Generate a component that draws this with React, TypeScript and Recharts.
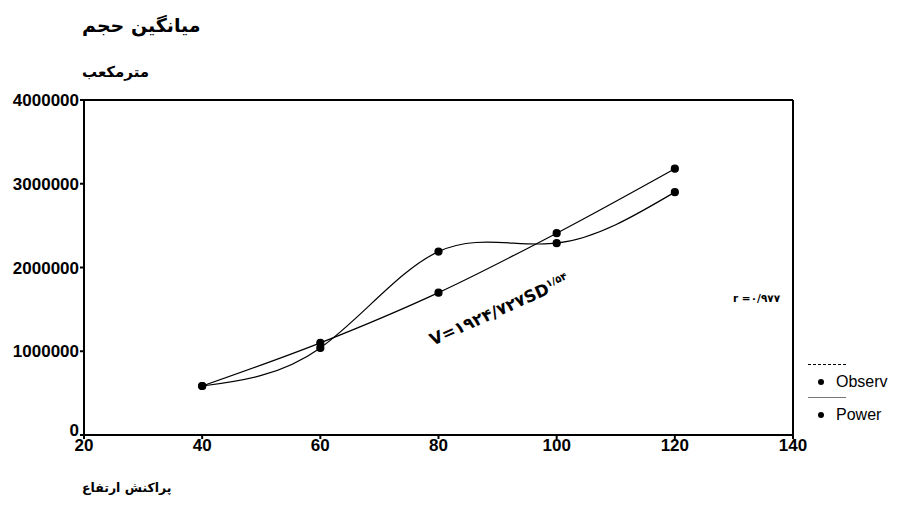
import React from 'react';
import { ComposedChart, Line, XAxis, YAxis, ReferenceLine } from 'recharts';

// ارتفاع (SD) و حجم (متر مکعب)
const heights = [40, 60, 80, 100, 120];
const observed = [585000, 1040000, 2190000, 2290000, 2900000];
const power = [585000, 1100000, 1700000, 2410000, 3180000];

const xTicks = [20, 40, 60, 80, 100, 120, 140];
const yTicks = [0, 1000000, 2000000, 3000000, 4000000];

const seriesNames = ['Observ', 'Power'];

const data = heights.map((h, i) => ({ h, observed: observed[i], power: power[i] }));

const latin = '"Liberation Sans", Arial, sans-serif';
const faFont = '"DejaVu Sans", sans-serif';
const tickStyle = { fill: '#000', fontSize: 17, fontWeight: 700, fontFamily: latin };

// the 0 label sits a little above the axis in the original
const YTick = (props: any) => {
  const { x, y, payload } = props;
  return (
    <text x={x} y={payload.value === 0 ? y - 5 : y} dy="0.355em" textAnchor="end" {...tickStyle}>
      {payload.value}
    </text>
  );
};

const App: React.FC = () => {
  return (
    <div style={{ position: 'absolute', left: 0, top: 0, width: 897, height: 515, background: '#fff' }}>
      <div dir="rtl" style={{ position: 'absolute', left: 82, top: 14, fontFamily: faFont, fontWeight: 700, fontSize: 19 }}>میانگین حجم</div>
      <div dir="rtl" style={{ position: 'absolute', left: 82, top: 63, fontFamily: faFont, fontWeight: 700, fontSize: 15 }}>مترمکعب</div>
      <div dir="rtl" style={{ position: 'absolute', left: 82, top: 480, fontFamily: faFont, fontWeight: 700, fontSize: 12.5 }}>پراکنش ارتفاع</div>
      <div style={{ position: 'absolute', left: 733, top: 292, fontFamily: faFont, fontWeight: 700, fontSize: 10.5 }}>r =۰/۹۷۷</div>
      <div style={{ position: 'absolute', left: 424, top: 300, transform: 'rotate(-24deg)', transformOrigin: 'center', fontFamily: faFont, fontWeight: 700, fontSize: 16.5, whiteSpace: 'nowrap' }}>
        V=۱۹۲۴/۷۲۷SD<sup style={{ fontSize: 10 }}>۱/۵۴</sup>
      </div>
      <div style={{ position: 'absolute', left: 808, top: 364, fontFamily: latin, fontSize: 16, color: '#000' }}>
        {seriesNames.map((name, i) => (
          <div key={name} style={{ marginBottom: 6 }}>
            <div style={{ width: 38, borderTop: i === 0 ? '1.5px dashed #000' : '1.5px solid #777', marginBottom: 8 }} />
            <div style={{ display: 'flex', alignItems: 'center' }}>
              <span style={{ width: 6, height: 6, borderRadius: 3, background: '#000', display: 'inline-block', margin: '0 12px 0 10px' }} />
              <span>{name}</span>
            </div>
          </div>
        ))}
      </div>
      <ComposedChart width={897} height={515} data={data} margin={{ top: 100, right: 104, left: 0, bottom: 50 }}>
        <XAxis
          dataKey="h"
          type="number"
          domain={[20, 140]}
          ticks={xTicks}
          tick={tickStyle}
          stroke="#000"
          strokeWidth={2}
          tickSize={4}
          tickMargin={0}
          height={30}
        />
        <YAxis
          type="number"
          domain={[0, 4000000]}
          ticks={yTicks}
          tick={<YTick />}
          stroke="#000"
          strokeWidth={2}
          tickSize={4}
          tickMargin={1}
          width={84}
        />
        <ReferenceLine y={4000000} stroke="#000" strokeWidth={2} />
        <ReferenceLine x={140} stroke="#000" strokeWidth={2} />
        <Line
          dataKey="observed"
          name={seriesNames[0]}
          type="natural"
          stroke="#000"
          strokeWidth={1.2}
          dot={{ r: 3.5, fill: '#000', stroke: '#000' }}
          isAnimationActive={false}
        />
        <Line
          dataKey="power"
          name={seriesNames[1]}
          type="monotone"
          stroke="#000"
          strokeWidth={1.2}
          dot={{ r: 3.5, fill: '#000', stroke: '#000' }}
          isAnimationActive={false}
        />
      </ComposedChart>
    </div>
  );
};

export default App;
